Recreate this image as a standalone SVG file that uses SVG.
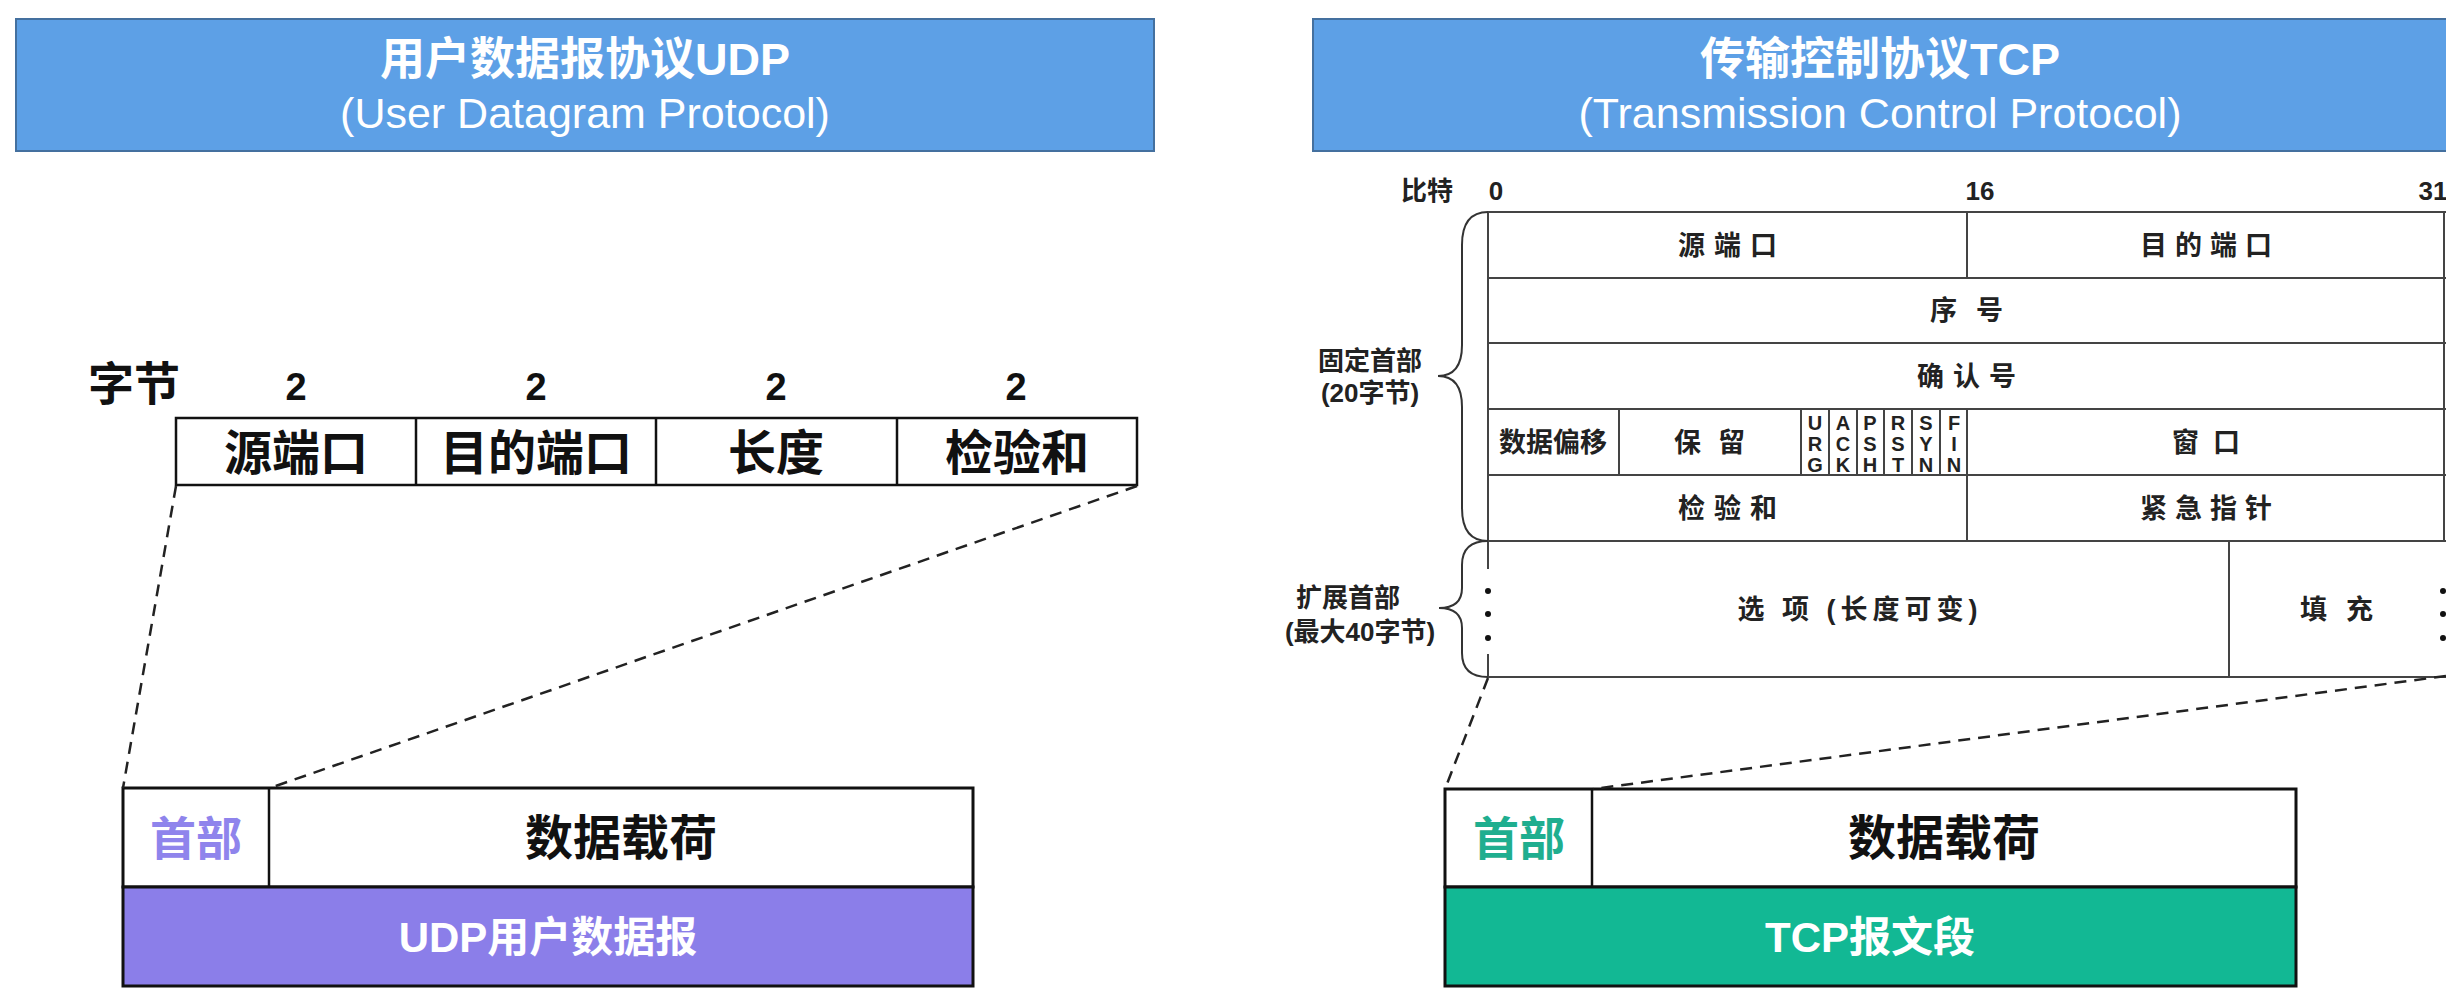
<svg xmlns="http://www.w3.org/2000/svg" width="2446" height="1001" viewBox="0 0 2446 1001">
  <style>
    text { font-family: "Liberation Sans", "Noto Sans CJK SC", sans-serif; }
    .title { fill: #ffffff; font-size: 45px; font-weight: 700; text-anchor: middle; }
    .subtitle { fill: #ffffff; font-size: 43px; font-weight: 400; text-anchor: middle; }
    .hdr { fill: #5da0e6; stroke: #44709f; stroke-width: 2; }
    .cell { fill: #ffffff; stroke: #111111; stroke-width: 2.5; }
    .grid { fill: none; stroke: #444444; stroke-width: 2; }
    .big { font-size: 48px; font-weight: 700; fill: #111111; text-anchor: middle; }
    .num { font-size: 38px; font-weight: 700; fill: #111111; text-anchor: middle; }
    .small { font-size: 27px; font-weight: 700; fill: #222222; text-anchor: middle; }
    .flag { font-size: 20px; font-weight: 700; fill: #222222; writing-mode: vertical-rl; text-orientation: upright; letter-spacing: -1px; }
    .side { font-size: 26px; font-weight: 700; fill: #222222; text-anchor: middle; }
    .dash { fill: none; stroke: #222222; stroke-width: 2.5; stroke-dasharray: 12 8; }
    .brace { fill: none; stroke: #333333; stroke-width: 2; }
  </style>

  <!-- UDP title banner -->
  <g id="udp-title">
    <rect class="hdr" x="16" y="19" width="1138" height="132"/>
    <text class="title" x="585" y="75">用户数据报协议UDP</text>
    <text class="subtitle" x="585" y="128">(User Datagram Protocol)</text>
  </g>

  <!-- TCP title banner -->
  <g id="tcp-title">
    <rect class="hdr" x="1313" y="19" width="1150" height="132"/>
    <text class="title" x="1880" y="75">传输控制协议TCP</text>
    <text class="subtitle" x="1880" y="128">(Transmission Control Protocol)</text>
  </g>

  <!-- UDP header fields -->
  <g id="udp-header">
    <text x="88" y="400" font-size="46" font-weight="700" fill="#111">字节</text>
    <text class="num" x="296" y="400">2</text>
    <text class="num" x="536" y="400">2</text>
    <text class="num" x="776" y="400">2</text>
    <text class="num" x="1016" y="400">2</text>
    <rect class="cell" x="176" y="418" width="961" height="67"/>
    <line class="cell" x1="416" y1="418" x2="416" y2="485"/>
    <line class="cell" x1="656" y1="418" x2="656" y2="485"/>
    <line class="cell" x1="897" y1="418" x2="897" y2="485"/>
    <text class="big" x="296" y="470">源端口</text>
    <text class="big" x="536" y="470">目的端口</text>
    <text class="big" x="776" y="470">长度</text>
    <text class="big" x="1017" y="470">检验和</text>
  </g>

  <!-- UDP datagram -->
  <g id="udp-datagram">
    <rect x="123" y="788" width="850" height="99" fill="#ffffff" stroke="#111" stroke-width="3"/>
    <line x1="269" y1="788" x2="269" y2="887" stroke="#111" stroke-width="2.5"/>
    <rect x="123" y="887" width="850" height="99" fill="#8b7ee9" stroke="#111" stroke-width="3"/>
    <text x="196" y="855" font-size="46" font-weight="700" fill="#8f84ec" text-anchor="middle">首部</text>
    <text class="big" x="621" y="855">数据载荷</text>
    <text x="548" y="952" font-size="42" font-weight="700" fill="#ffffff" text-anchor="middle">UDP用户数据报</text>
  </g>

  <!-- TCP header table -->
  <g id="tcp-header">
    <text class="side" x="1427" y="200">比特</text>
    <text class="side" x="1496" y="200">0</text>
    <text class="side" x="1980" y="200">16</text>
    <text class="side" x="2433" y="200">31</text>

    <!-- row and column rules -->
    <path class="grid" d="M1488,212 H2446 M1488,278 H2446 M1488,343 H2446 M1488,409 H2446 M1488,475 H2446 M1488,541 H2446 M1488,677 H2446"/>
    <path class="grid" d="M1488,212 V569 M1488,654 V677 M2444,212 V541"/>
    <path class="grid" d="M1967,212 V278 M1967,409 V541 M1619,409 V475 M1801,409 V475 M1829,409 V475 M1857,409 V475 M1884,409 V475 M1912,409 V475 M1940,409 V475 M2229,541 V677"/>

    <text class="small" x="1732" y="255" letter-spacing="9">源端口</text>
    <text class="small" x="2210" y="255" letter-spacing="8">目的端口</text>
    <text class="small" x="1976" y="320" letter-spacing="19">序号</text>
    <text class="small" x="1971" y="386" letter-spacing="9">确认号</text>
    <text class="small" x="1553" y="452">数据偏移</text>
    <text class="small" x="1718" y="452" letter-spacing="17">保留</text>
    <text class="small" x="2213" y="452" letter-spacing="14">窗口</text>
    <text class="small" x="1732" y="518" letter-spacing="9">检验和</text>
    <text class="small" x="2210" y="518" letter-spacing="8">紧急指针</text>
    <text class="small" x="1860" y="619" letter-spacing="5">选 项 (长度可变)</text>
    <text class="small" x="2346" y="619" letter-spacing="19">填充</text>

    <!-- control flag columns, stacked upright -->
    <g class="flags">
      <text class="flag" x="1815" y="412">URG</text>
      <text class="flag" x="1843" y="412">ACK</text>
      <text class="flag" x="1870" y="412">PSH</text>
      <text class="flag" x="1898" y="412">RST</text>
      <text class="flag" x="1926" y="412">SYN</text>
      <text class="flag" x="1954" y="412">FIN</text>
    </g>

    <!-- variable-length markers -->
    <g fill="#111">
      <circle cx="1488" cy="591" r="3"/><circle cx="1488" cy="614" r="3"/><circle cx="1488" cy="638" r="3"/>
      <circle cx="2443" cy="591" r="3"/><circle cx="2443" cy="614" r="3"/><circle cx="2443" cy="638" r="3"/>
    </g>
  </g>

  <!-- header part labels with braces -->
  <g id="fixed-part">
    <path class="brace" d="M1488,212 Q1462,212 1462,245 L1462,345 Q1462,376 1438,376 Q1462,376 1462,407 L1462,508 Q1462,541 1488,541"/>
    <text class="side" x="1370" y="370">固定首部</text>
    <text class="side" x="1370" y="402">(20字节)</text>
  </g>
  <g id="option-part">
    <path class="brace" d="M1488,541 Q1462,541 1462,565 L1462,588 Q1462,608 1439,608 Q1462,608 1462,628 L1462,653 Q1462,677 1488,677"/>
    <text class="side" x="1348" y="607">扩展首部</text>
    <text class="side" x="1360" y="641">(最大40字节)</text>
  </g>

  <!-- TCP segment -->
  <g id="tcp-segment">
    <rect x="1445" y="789" width="851" height="98" fill="#ffffff" stroke="#111" stroke-width="3"/>
    <line x1="1592" y1="789" x2="1592" y2="887" stroke="#111" stroke-width="2.5"/>
    <rect x="1445" y="887" width="851" height="99" fill="#12b894" stroke="#111" stroke-width="3"/>
    <text x="1519" y="855" font-size="46" font-weight="700" fill="#1fae8f" text-anchor="middle">首部</text>
    <text class="big" x="1944" y="855">数据载荷</text>
    <text x="1870" y="952" font-size="42" font-weight="700" fill="#ffffff" text-anchor="middle">TCP报文段</text>
  </g>

  <!-- expansion connectors -->
  <g id="connectors">
    <line class="dash" x1="176" y1="486" x2="123" y2="788"/>
    <line class="dash" x1="1137" y1="486" x2="270" y2="788"/>
    <line class="dash" x1="1488" y1="678" x2="1445" y2="789"/>
    <line class="dash" x1="2446" y1="676" x2="1593" y2="789"/>
  </g>
</svg>
